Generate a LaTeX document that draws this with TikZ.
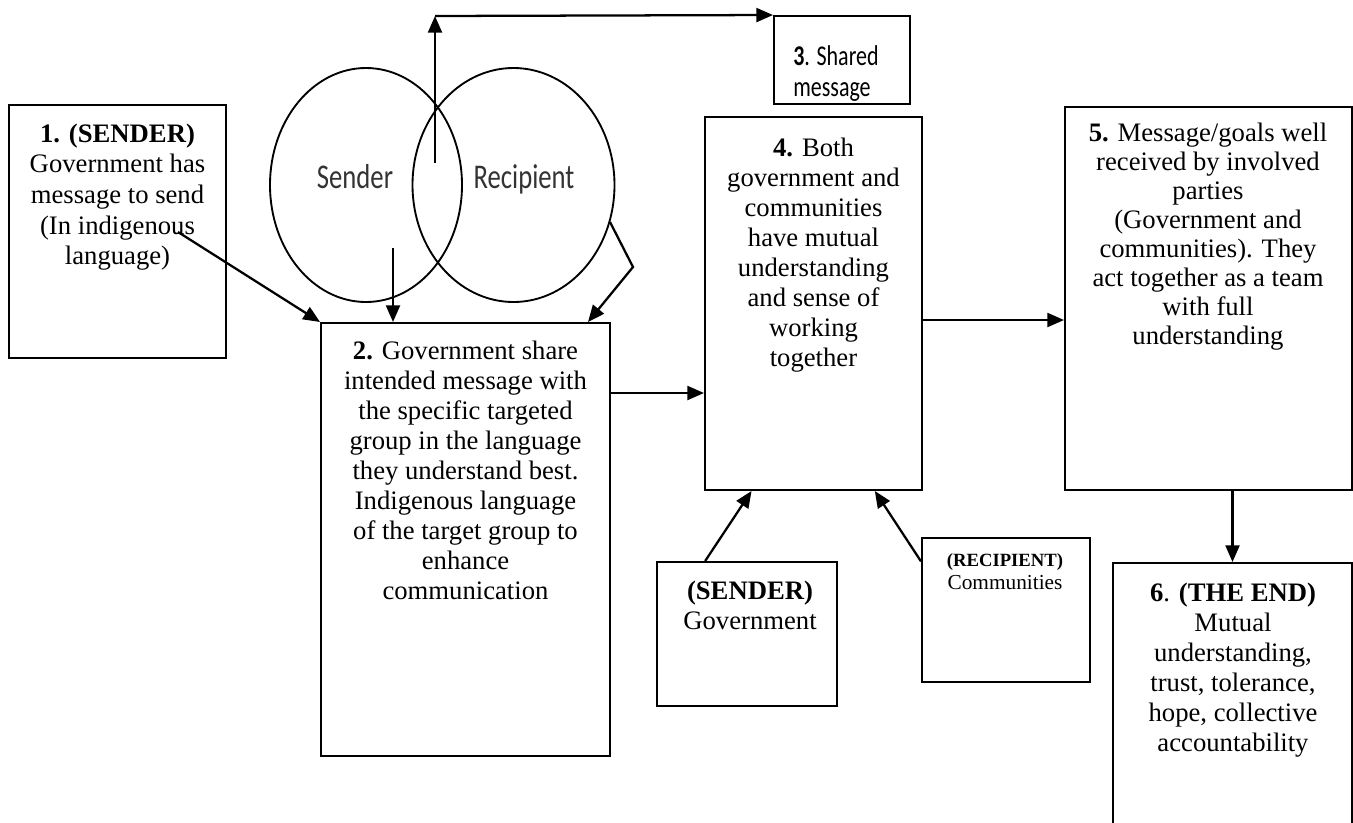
\documentclass[tikz,border=0pt]{standalone}
\usepackage{graphicx}
\usepackage{fontspec}
\setmainfont{Liberation Serif}
\newfontfamily\calib{Carlito}
\usetikzlibrary{arrows.meta,fit,shapes.geometric,calc}
\begin{document}
\begin{tikzpicture}[x=0.75pt,y=-0.75pt,
  box/.style={draw, line width=1.5pt, inner sep=0pt},
  arr/.style={line width=1.7pt, -{Triangle[length=12.5pt,width=10.5pt]}},
  txt/.style={inner sep=0pt, align=center, anchor=north, font=\fontsize{20}{22.5}\selectfont},
  venn/.style={draw, ellipse, line width=1.4pt, inner sep=0pt, minimum height=175.5pt},
  vtxt/.style={inner sep=0pt, anchor=base, text=black!80, font=\calib\fontsize{20}{24}\selectfont}
]
\useasboundingbox (0,0) rectangle (1353,822);
\clip (0,0) rectangle (1353,822);

% boxes
\node[box, fit={(9,105) (226,358)}] (b1) {};
\node[box, fit={(321,323) (610,756)}] (b2) {};
\node[box, fit={(774,16) (910,104)}] (b3) {};
\node[box, fit={(705,117) (922,490)}] (b4) {};
\node[box, fit={(1065,107) (1352,490)}] (b5) {};
\node[box, fit={(1113,563) (1352,860)}] (b6) {};
\node[box, fit={(657,562) (837,706)}] (bs) {};
\node[box, fit={(922,538) (1090,682)}] (br) {};

% venn circles
\node[venn, minimum width=144pt] (cs) at (366,185) {};
\node[venn, minimum width=151.5pt] (cr) at (513.5,185) {};
\node[vtxt] (ls) at (355,188) {\scalebox{1}[1.3]{Sender}};
\node[vtxt] (lr) at (524,188) {\scalebox{1}[1.3]{Recipient}};

% texts
\node[txt, font=\fontsize{20}{23}\selectfont] (t1) at (117.5,123.5)
  {\textbf{1. (SENDER)}\\Government has\\message to send\\(In indigenous\\language)};
\node[txt] (t2) at (465.5,340.5)
  {\textbf{2.} Government share\\intended message with\\the specific targeted\\group in the language\\they understand best.\\Indigenous language\\of the target group to\\enhance\\communication};
\node[inner sep=0pt, anchor=north west, align=left, font=\calib\fontsize{16.5}{21}\selectfont] (t3) at (793,45)
  {\scalebox{1}[1.3]{\textbf{3}. Shared}\\[2.5pt]\scalebox{1}[1.3]{message}};
\node[txt] (t4) at (813.5,137.5)
  {\textbf{4.} Both\\government and\\communities\\have mutual\\understanding\\and sense of\\working\\together};
\node[txt, font=\fontsize{20}{21.75}\selectfont] (t5) at (1208,122.5)
  {\textbf{5.} Message/goals well\\received by involved\\parties\\(Government and\\communities). They\\act together as a team\\with full\\understanding};
\node[txt] (t6) at (1233,582.5)
  {\textbf{6}. \textbf{(THE END)}\\Mutual\\understanding,\\trust, tolerance,\\hope, collective\\accountability};
\node[txt] (ts) at (750,580.5)
  {\textbf{(SENDER)}\\Government};
\node[txt, font=\fontsize{16}{17.25}\selectfont] (tr) at (1005,553)
  {{\fontsize{14}{17.25}\selectfont\textbf{(RECIPIENT)}}\\Communities};

% connectors
\coordinate (a1) at (178,232);
\draw[arr] (a1) -- (b2.north west);
\coordinate (a2) at (393,248);
\draw[arr] (a2) -- (a2 |- b2.north);
\coordinate (a3) at (610,222);
\coordinate (a4) at (633,267);
\draw[arr] (a3) -- (a4) -- ($(b2.north east)+(-23,0)$);
\coordinate (a5) at (435,163);
\coordinate (a6) at (435,16);
\draw[arr] (a5) -- (a6);
\draw[arr] (a6) -- (b3.north west);
\coordinate (y1) at (0,393);
\draw[arr] (y1 -| b2.east) -- (y1 -| b4.west);
\coordinate (y2) at (0,320);
\draw[arr] (y2 -| b4.east) -- (y2 -| b5.west);
\draw[arr] (b6.north |- b5.south) -- (b6.north);
\draw[arr] ($(bs.north west)!0.27!(bs.north east)$) -- ($(b4.south west)!0.217!(b4.south east)$);
\draw[arr] ($(br.north west)!0.167!(br.south west)$) -- ($(b4.south west)!0.78!(b4.south east)$);
\end{tikzpicture}
\end{document}
